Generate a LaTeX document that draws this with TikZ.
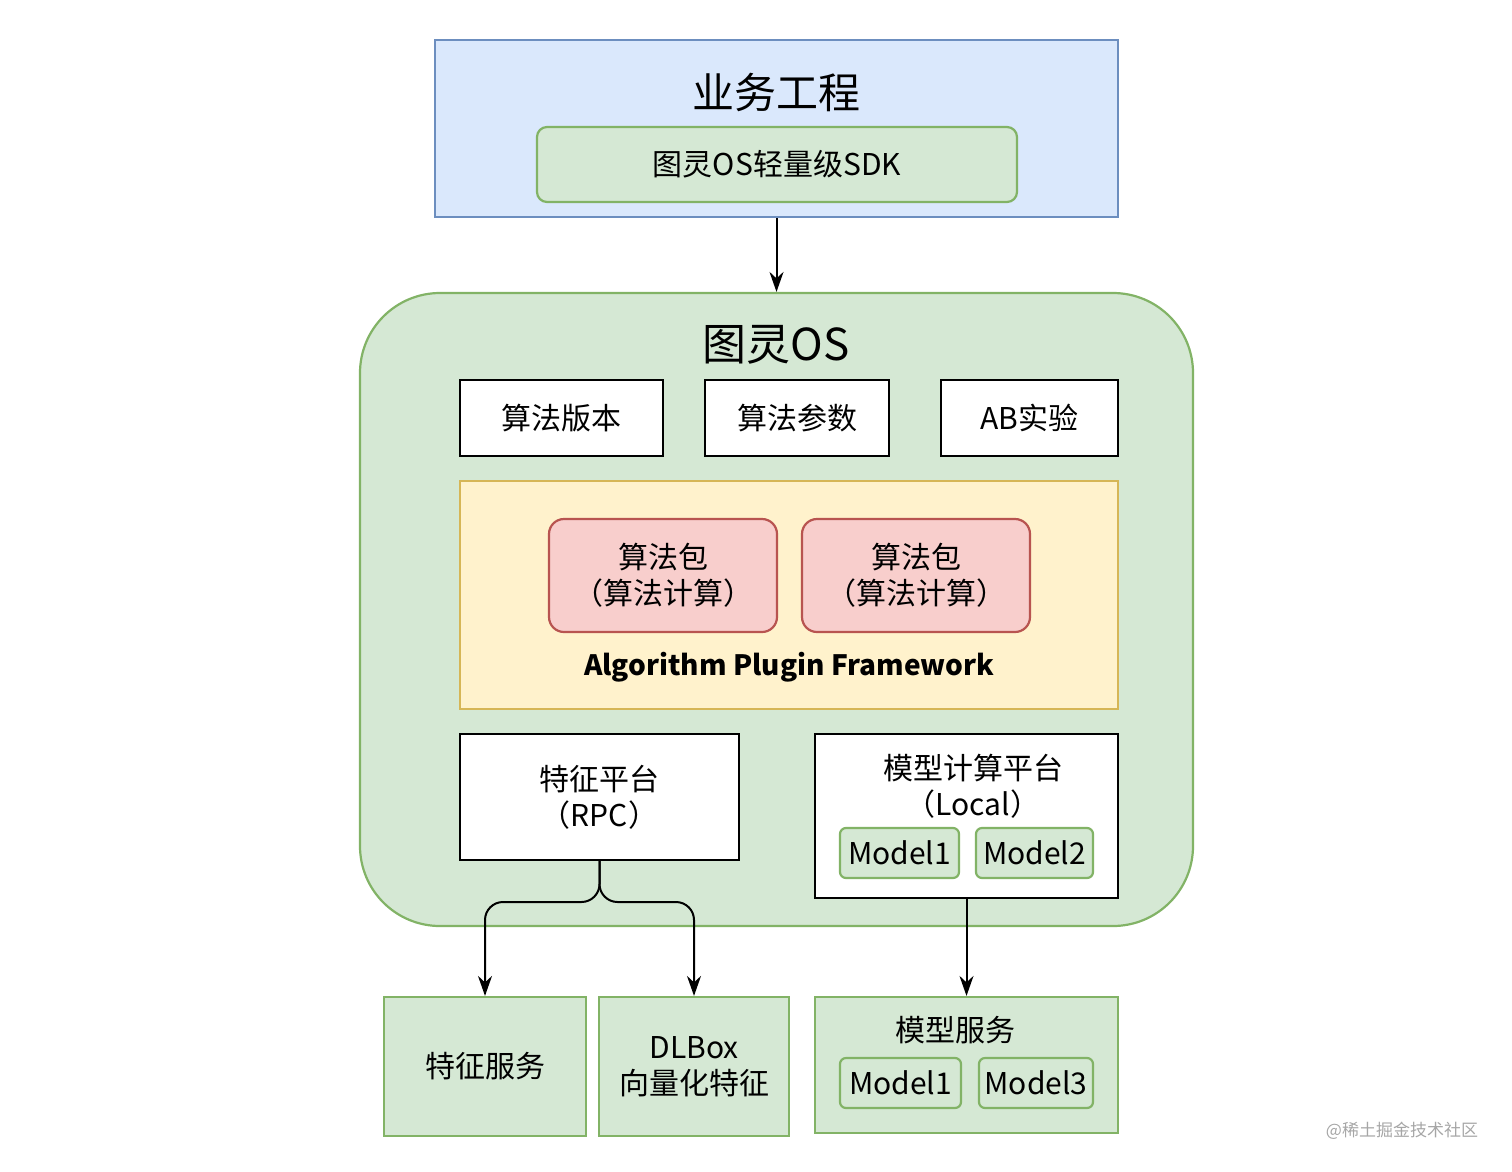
\documentclass[tikz,border=0pt]{standalone}
\usepackage{fontspec}
\setmainfont{Noto Sans CJK SC}
\usetikzlibrary{arrows.meta}
\definecolor{bfill}{HTML}{DAE8FC}\definecolor{bline}{HTML}{6C8EBF}
\definecolor{gfill}{HTML}{D5E8D4}\definecolor{gline}{HTML}{82B366}
\definecolor{yfill}{HTML}{FFF2CC}\definecolor{yline}{HTML}{D6B656}
\definecolor{rfill}{HTML}{F8CECC}\definecolor{rline}{HTML}{B85450}
\begin{document}
\begin{tikzpicture}[x=1pt,y=-1pt,
 box/.style={draw,line width=2.2pt,inner sep=0pt,minimum width=#1},
 blue/.style={fill=bfill,draw=bline},
 green/.style={fill=gfill,draw=gline},
 white/.style={fill=white,draw=black},
 lbl/.style={inner sep=0pt,align=center,font=\fontsize{30}{36}\selectfont},
 arr/.style={line width=2pt,-{Stealth[length=20pt,width=14pt]}}]
\useasboundingbox (0,0) rectangle (1512,1171);
\node[box=683,blue,minimum height=177] (biz) at (776.5,128.5) {};
\node[lbl,font=\fontsize{42}{48}\selectfont] (bizt) at (776,92) {业务工程};
\node[box=480,green,rounded corners=10pt,minimum height=75,lbl] (sdk) at (777,164.5) {图灵OS轻量级SDK};
\node[box=833,green,rounded corners=80pt,minimum height=633] (os) at (776.5,609.5) {};
\node[lbl,font=\fontsize{44}{50}\selectfont] (ost) at (776,345) {图灵OS};
\node[box=203,white,minimum height=76,lbl] (v1) at (561.5,418) {算法版本};
\node[box=184,white,minimum height=76,lbl] (v2) at (797,418) {算法参数};
\node[box=177,white,minimum height=76,lbl] (v3) at (1029.5,418) {AB实验};
\node[box=658,fill=yfill,draw=yline,minimum height=228] (fw) at (789,595) {};
\node[box=228,fill=rfill,draw=rline,rounded corners=15pt,minimum height=113,lbl] (p1) at (663,575.5) {算法包\\（算法计算）};
\node[box=228,fill=rfill,draw=rline,rounded corners=15pt,minimum height=113,lbl] (p2) at (916,575.5) {算法包\\（算法计算）};
\node[lbl,font=\fontsize{28}{34}\selectfont\bfseries] (fwt) at (789,667) {Algorithm Plugin Framework};
\node[box=279,white,minimum height=126,lbl] (fp) at (599.5,797) {特征平台\\（RPC）};
\node[box=303,white,minimum height=164] (mc) at (966.5,816) {};
\node[lbl] (mct) at (973,786) {模型计算平台\\（Local）};
\node[box=119,green,rounded corners=6pt,minimum height=50,lbl] (m1) at (899.5,853) {Model1};
\node[box=117,green,rounded corners=6pt,minimum height=50,lbl] (m2) at (1034.5,853) {Model2};
\node[box=202,green,minimum height=139,lbl] (s1) at (485,1066.5) {特征服务};
\node[box=190,green,minimum height=139,lbl] (s2) at (694,1066.5) {DLBox\\向量化特征};
\node[box=303,green,minimum height=136] (s3) at (966.5,1065) {};
\node[lbl] (s3t) at (955,1030) {模型服务};
\node[box=121,green,rounded corners=6pt,minimum height=50,lbl] (m1b) at (900.5,1083) {Model1};
\node[box=114,green,rounded corners=6pt,minimum height=50,lbl] (m3) at (1036,1083) {Model3};
\node[inner sep=0pt,text=gray!70,font=\fontsize{17}{20}\selectfont] (wm) at (1402,1131) {@稀土掘金技术社区};
\draw[arr] (biz.south) -- (os.north);
\coordinate (j) at (599.5,902);
\draw[arr,rounded corners=18pt] (fp.south) -- (j) -| (s1.north);
\draw[arr,rounded corners=18pt] (fp.south) -- (j) -| (s2.north);
\draw[arr] (mc.south) -- (s3.north);
\end{tikzpicture}
\end{document}
